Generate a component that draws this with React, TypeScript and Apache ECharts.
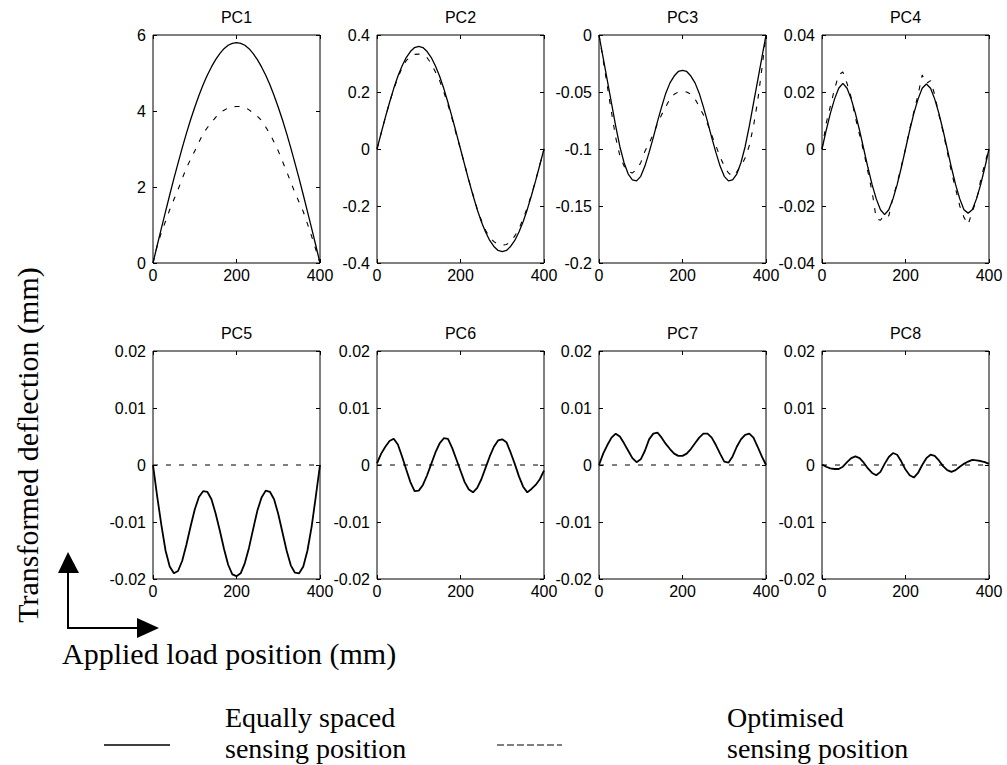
import React, { useEffect, useRef } from "react";
import * as echarts from "echarts";

// ---------- data ----------
const positions = [0, 10, 20, 30, 40, 50, 60, 70, 80, 90, 100, 110, 120, 130, 140, 150, 160, 170, 180, 190, 200,
  210, 220, 230, 240, 250, 260, 270, 280, 290, 300, 310, 320, 330, 340, 350, 360, 370, 380, 390, 400];
const flatPositions = [0, 400];

const pc1Equal = [0, 0.46, 0.91, 1.35, 1.79, 2.22, 2.63, 3.03, 3.41, 3.77, 4.10, 4.41, 4.69, 4.94, 5.16, 5.35, 5.51, 5.64, 5.73, 5.78, 5.80,
  5.78, 5.73, 5.64, 5.51, 5.35, 5.16, 4.94, 4.69, 4.41, 4.10, 3.77, 3.41, 3.03, 2.63, 2.22, 1.79, 1.35, 0.91, 0.46, 0];
const pc1Optimised = [0, 0.45, 0.8, 1.1, 1.4, 1.67, 1.93, 2.22, 2.5, 2.73, 2.95, 3.18, 3.4, 3.56, 3.7, 3.83, 3.95, 4.02, 4.08, 4.11, 4.12,
  4.12, 4.1, 4.03, 3.95, 3.86, 3.75, 3.58, 3.4, 3.18, 2.95, 2.68, 2.41, 2.13, 1.85, 1.6, 1.35, 1.03, 0.7, 0.35, 0];

const pc2Equal = [0, 0.056, 0.111, 0.163, 0.212, 0.255, 0.291, 0.321, 0.342, 0.356, 0.36, 0.356, 0.342, 0.321, 0.291, 0.255, 0.212, 0.163, 0.111, 0.056, 0,
  -0.056, -0.111, -0.163, -0.212, -0.255, -0.291, -0.321, -0.342, -0.356, -0.36, -0.356, -0.342, -0.321, -0.291, -0.255, -0.212, -0.163, -0.111, -0.056, 0];
const pc2Optimised = [0, 0.056, 0.111, 0.163, 0.21, 0.25, 0.285, 0.31, 0.325, 0.332, 0.333, 0.33, 0.32, 0.3, 0.27, 0.24, 0.2, 0.155, 0.105, 0.05, 0,
  -0.055, -0.11, -0.16, -0.21, -0.25, -0.285, -0.31, -0.325, -0.335, -0.338, -0.335, -0.325, -0.305, -0.28, -0.245, -0.205, -0.16, -0.11, -0.055, 0];

const pc3Equal = [0, -0.02, -0.04, -0.06, -0.08, -0.098, -0.112, -0.122, -0.127, -0.128, -0.124, -0.115, -0.103, -0.09, -0.076, -0.063, -0.051, -0.042, -0.036, -0.032, -0.031,
  -0.032, -0.036, -0.042, -0.051, -0.063, -0.076, -0.09, -0.103, -0.115, -0.124, -0.128, -0.127, -0.122, -0.112, -0.098, -0.08, -0.06, -0.04, -0.02, 0];
const pc3Optimised = [0, -0.022, -0.045, -0.068, -0.09, -0.106, -0.115, -0.12, -0.121, -0.118, -0.112, -0.102, -0.095, -0.087, -0.078, -0.07, -0.063, -0.056, -0.052, -0.05, -0.05,
  -0.05, -0.052, -0.056, -0.063, -0.07, -0.078, -0.088, -0.097, -0.107, -0.115, -0.121, -0.124, -0.12, -0.115, -0.108, -0.097, -0.08, -0.058, -0.03, 0];

const pc4Equal = [0, 0.0065, 0.0125, 0.0175, 0.0213, 0.023, 0.0213, 0.0175, 0.0125, 0.0065, 0, -0.0065, -0.0125, -0.0175, -0.0213, -0.023, -0.0213, -0.0175, -0.0125, -0.0065, 0,
  0.0065, 0.0125, 0.0175, 0.0213, 0.0228, 0.0213, 0.0175, 0.0125, 0.0065, 0, -0.0065, -0.0125, -0.0175, -0.0213, -0.0225, -0.0213, -0.0175, -0.0125, -0.0065, 0];
const pc4Optimised = [0, 0.009, 0.015, 0.021, 0.026, 0.027, 0.023, 0.018, 0.011, 0.005, -0.001, -0.008, -0.015, -0.0245, -0.025, -0.023, -0.0235, -0.017, -0.012, -0.006, 0,
  0.007, 0.013, 0.019, 0.026, 0.023, 0.024, 0.019, 0.012, 0.006, -0.001, -0.008, -0.014, -0.02, -0.024, -0.0265, -0.022, -0.018, -0.011, -0.005, 0];

const pc5Equal = [0, -0.0055, -0.0105, -0.015, -0.0178, -0.019, -0.0186, -0.0168, -0.014, -0.0108, -0.0078, -0.0056, -0.0046, -0.0047, -0.006, -0.0085, -0.0115, -0.0147, -0.0175, -0.0192, -0.0195,
  -0.019, -0.0172, -0.0145, -0.0112, -0.008, -0.0057, -0.0045, -0.0047, -0.006, -0.0086, -0.0118, -0.015, -0.0176, -0.0189, -0.019, -0.0178, -0.015, -0.0108, -0.0055, 0];
const pc6Equal = [0.0003, 0.002, 0.0032, 0.0042, 0.0046, 0.0036, 0.0015, -0.0008, -0.003, -0.0046, -0.0045, -0.0035, -0.0018, 0.0002, 0.0022, 0.0038, 0.0047, 0.0046, 0.003, 0.001, -0.001,
  -0.003, -0.0043, -0.0048, -0.004, -0.0025, -0.0005, 0.0015, 0.0032, 0.0043, 0.0045, 0.004, 0.0022, 0.0002, -0.002, -0.0038, -0.0048, -0.0042, -0.0035, -0.0025, -0.001];
const pc7Equal = [0, 0.002, 0.0035, 0.0048, 0.0055, 0.005, 0.0038, 0.0025, 0.0012, 0.0005, 0.001, 0.0025, 0.0045, 0.0055, 0.0057, 0.0048, 0.0037, 0.0028, 0.002, 0.0016, 0.0016,
  0.002, 0.0028, 0.0038, 0.0048, 0.0055, 0.0055, 0.0048, 0.0035, 0.002, 0.0006, 0.0004, 0.0015, 0.0032, 0.0045, 0.0053, 0.0055, 0.0048, 0.0032, 0.0015, 0];
const pc8Equal = [0.0001, -0.0003, -0.0006, -0.0007, -0.0007, -0.0003, 0.0005, 0.0012, 0.0015, 0.0012, 0.0004, -0.0006, -0.0014, -0.0018, -0.0012, 0.0002, 0.0014, 0.0021, 0.0018, 0.0006, -0.0008,
  -0.0018, -0.0022, -0.0014, 0, 0.0012, 0.0018, 0.0016, 0.0008, -0.0002, -0.0009, -0.0012, -0.0009, -0.0003, 0.0002, 0.0006, 0.0009, 0.0008, 0.0007, 0.0005, 0.0002];
const pc5Optimised = [0, 0];
const pc6Optimised = [0, 0];
const pc7Optimised = [0, 0];
const pc8Optimised = [0, 0];

const panelTitles = ["PC1", "PC2", "PC3", "PC4", "PC5", "PC6", "PC7", "PC8"];
const equalSeries = [pc1Equal, pc2Equal, pc3Equal, pc4Equal, pc5Equal, pc6Equal, pc7Equal, pc8Equal];
const optimisedSeries = [pc1Optimised, pc2Optimised, pc3Optimised, pc4Optimised, pc5Optimised, pc6Optimised, pc7Optimised, pc8Optimised];
const optimisedPositions = [positions, positions, positions, positions, flatPositions, flatPositions, flatPositions, flatPositions];
const yMins = [0, -0.4, -0.2, -0.04, -0.02, -0.02, -0.02, -0.02];
const yMaxs = [6, 0.4, 0, 0.04, 0.02, 0.02, 0.02, 0.02];
const yIntervals = [2, 0.2, 0.05, 0.02, 0.01, 0.01, 0.01, 0.01];
const xMin = 0;
const xMax = 400;
const xInterval = 200;

const yAxisTitle = "Transformed deflection (mm)";
const xAxisTitle = "Applied load position (mm)";
const legendEqual = ["Equally spaced", "sensing position"];
const legendOptimised = ["Optimised", "sensing position"];

// ---------- layout ----------
const SANS = "'Liberation Sans', Arial, Helvetica, sans-serif";
const SERIF = "'Liberation Serif', 'Times New Roman', serif";
const gridLefts = [153, 377, 599, 822];
const gridTops = [35, 351];
const gridW = 167;
const gridH = 228;

const fmt = (v: number) => String(Math.round(v * 10000) / 10000);

function buildOption() {
  const grids: any[] = [];
  const xAxes: any[] = [];
  const yAxes: any[] = [];
  const series: any[] = [];
  const graphics: any[] = [];

  for (let i = 0; i < 8; i++) {
    const left = gridLefts[i % 4];
    const top = gridTops[Math.floor(i / 4)];
    grids.push({
      left, top, width: gridW, height: gridH,
      show: true, borderColor: "#000", borderWidth: 1, backgroundColor: "transparent",
      containLabel: false, outerBoundsMode: "none",
    });
    const tick = { show: true, inside: true, length: 4, lineStyle: { color: "#000", width: 1 } };
    const label = { color: "#000", fontSize: 16, fontFamily: SANS };
    const line = { show: false, onZero: false };
    xAxes.push({
      gridIndex: i, type: "value", position: "bottom", min: xMin, max: xMax, interval: xInterval,
      axisLine: line, axisTick: tick, splitLine: { show: false },
      axisLabel: { ...label, margin: 4, formatter: fmt },
    });
    xAxes.push({
      gridIndex: i, type: "value", position: "top", min: xMin, max: xMax, interval: xInterval,
      axisLine: line, axisTick: tick, splitLine: { show: false }, axisLabel: { show: false },
    });
    yAxes.push({
      gridIndex: i, type: "value", position: "left", min: yMins[i], max: yMaxs[i], interval: yIntervals[i],
      axisLine: line, axisTick: tick, splitLine: { show: false },
      axisLabel: { ...label, margin: 7, formatter: fmt },
    });
    yAxes.push({
      gridIndex: i, type: "value", position: "right", min: yMins[i], max: yMaxs[i], interval: yIntervals[i],
      axisLine: line, axisTick: tick, splitLine: { show: false }, axisLabel: { show: false },
    });
    const noisy = i >= 4;
    series.push({
      type: "line", xAxisIndex: 2 * i, yAxisIndex: 2 * i,
      data: positions.map((x, k) => [x, equalSeries[i][k]]),
      showSymbol: false, symbol: "none", silent: true, clip: true,
      lineStyle: { color: "#000", width: noisy ? 1.8 : 1.3 },
    });
    series.push({
      type: "line", xAxisIndex: 2 * i, yAxisIndex: 2 * i,
      data: optimisedPositions[i].map((x, k) => [x, optimisedSeries[i][k]]),
      showSymbol: false, symbol: "none", silent: true, clip: true,
      lineStyle: { color: "#000", width: 1.1, type: [5, 8] },
    });
    graphics.push({
      type: "text", x: left + gridW / 2, y: top - 18,
      style: { text: panelTitles[i], font: `16px ${SANS}`, fill: "#000", textAlign: "center", textVerticalAlign: "middle" },
    });
  }

  // axis titles
  graphics.push({
    type: "text", x: 27, y: 445, rotation: Math.PI / 2,
    style: { text: yAxisTitle, font: `30px ${SERIF}`, fill: "#000", textAlign: "center", textVerticalAlign: "middle" },
  });
  graphics.push({
    type: "text", x: 62, y: 653,
    style: { text: xAxisTitle, font: `30px ${SERIF}`, fill: "#000", textAlign: "left", textVerticalAlign: "middle" },
  });
  // arrows
  graphics.push({ type: "line", shape: { x1: 68, y1: 629, x2: 68, y2: 570 }, style: { stroke: "#000", lineWidth: 2 } });
  graphics.push({ type: "polygon", shape: { points: [[68, 552], [58, 573], [79, 573]] }, style: { fill: "#000" } });
  graphics.push({ type: "line", shape: { x1: 67, y1: 628, x2: 140, y2: 628 }, style: { stroke: "#000", lineWidth: 2 } });
  graphics.push({ type: "polygon", shape: { points: [[159, 628], [137, 618], [137, 638]] }, style: { fill: "#000" } });

  // legend
  graphics.push({ type: "line", shape: { x1: 104, y1: 745, x2: 170, y2: 745 }, style: { stroke: "#000", lineWidth: 1.5 } });
  graphics.push({ type: "line", shape: { x1: 497, y1: 745, x2: 562, y2: 745 }, style: { stroke: "#000", lineWidth: 1.2, lineDash: [7, 3] } });
  legendEqual.forEach((t, k) => graphics.push({
    type: "text", x: 225, y: 717 + k * 31,
    style: { text: t, font: `28px ${SERIF}`, fill: "#000", textAlign: "left", textVerticalAlign: "middle" },
  }));
  legendOptimised.forEach((t, k) => graphics.push({
    type: "text", x: 727, y: 717 + k * 31,
    style: { text: t, font: `28px ${SERIF}`, fill: "#000", textAlign: "left", textVerticalAlign: "middle" },
  }));

  return {
    animation: false,
    backgroundColor: "#fff",
    grid: grids,
    xAxis: xAxes,
    yAxis: yAxes,
    series,
    graphic: graphics,
  };
}

export default function App() {
  const ref = useRef<HTMLDivElement>(null);
  useEffect(() => {
    if (!ref.current) return;
    const chart = echarts.init(ref.current, undefined, { renderer: "svg" });
    chart.setOption(buildOption() as any);
    return () => chart.dispose();
  }, []);
  return (
    <div
      ref={ref}
      style={{ position: "absolute", left: 0, top: 0, width: 1007, height: 765, background: "#fff" }}
    />
  );
}
